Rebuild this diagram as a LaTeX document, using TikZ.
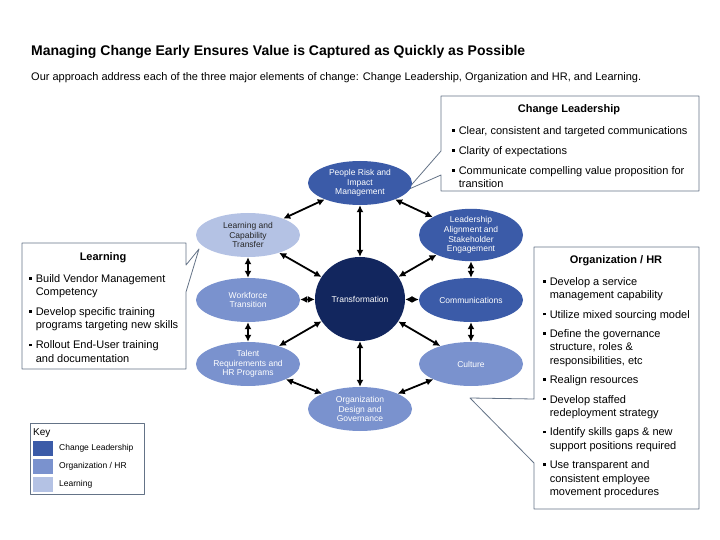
\documentclass[tikz,border=0pt]{standalone}
\usepackage{fontspec}
\setmainfont{Liberation Sans}
\usetikzlibrary{shapes.geometric, arrows.meta, positioning, calc}
\definecolor{leadblue}{RGB}{59,91,168}
\definecolor{orgblue}{RGB}{122,146,206}
\definecolor{learnblue}{RGB}{180,194,228}
\definecolor{coreblue}{RGB}{18,38,94}
\definecolor{edgegray}{RGB}{100,115,135}
\newcommand{\bul}{\rule[0.45ex]{2.6pt}{2.6pt}}
\tikzset{
  bubble/.style={ellipse, minimum width=104pt, minimum height=44pt, inner sep=0pt,
    align=center, font=\fontsize{8.5}{9.7}\selectfont, text=white},
  link/.style={line width=1.8pt, {Latex[length=7pt,width=7pt]}-{Latex[length=7pt,width=7pt]}},
  callout/.style={draw=edgegray, fill=white, line width=0.8pt},
  listtext/.style={anchor=north west, inner sep=0pt, align=left, font=\fontsize{11}{13.3}\selectfont},
  boxhead/.style={inner sep=0pt, font=\bfseries\fontsize{11}{13}\selectfont},
}

\begin{document}
\begin{tikzpicture}[x=1pt, y=-1pt, line join=round]
      \useasboundingbox (0,0) rectangle (720,540);
      \node[anchor=west, inner sep=0pt, font=\bfseries\fontsize{14}{16}\selectfont] (title) at (31,52)
        {Managing Change Early Ensures Value is Captured as Quickly as Possible};
      \node[anchor=west, inner sep=0pt, font=\fontsize{11}{13}\selectfont] (intro) at (31,78)
        {Our approach address each of the three major elements of change: Change Leadership, Organization and HR, and Learning.};
      % callout boxes
      \draw[callout] (441,96) -- (699,96) -- (699,191) -- (441,191) -- (441,175) -- (407,190) -- (441,151) -- cycle;
      \draw[callout] (22,243) -- (186,243) -- (186,265) -- (199,249) -- (186,292) -- (186,369) -- (22,369) -- cycle;
      \draw[callout] (534,247) -- (699,247) -- (699,509) -- (534,509) -- (534,463) -- (470,398) -- (534,399) -- cycle;
      \node[boxhead] (leadhead) at (569,110) {Change Leadership};
      \node[listtext] (leadlist) at (452,124.7) {\begin{tabular}{@{}l@{\hspace{4pt}}l@{}}
        \bul & Clear, consistent and targeted communications\\[6.7pt]
        \bul & Clarity of expectations\\[6.7pt]
        \bul & Communicate compelling value proposition for\\
             & transition
      \end{tabular}};
      \node[boxhead] (learnhead) at (103,258) {Learning};
      \node[listtext] (learnlist) at (29,272.7) {\begin{tabular}{@{}l@{\hspace{4pt}}l@{}}
        \bul & Build Vendor Management\\
             & Competency\\[6.7pt]
        \bul & Develop specific training\\
             & programs targeting new skills\\[6.7pt]
        \bul & Rollout End-User training\\
             & and documentation
      \end{tabular}};
      \node[boxhead] (orghead) at (616,261) {Organization / HR};
      \node[listtext] (orglist) at (543,275.7) {\begin{tabular}{@{}l@{\hspace{4pt}}l@{}}
        \bul & Develop a service\\
             & management capability\\[6.2pt]
        \bul & Utilize mixed sourcing model\\[6.2pt]
        \bul & Define the governance\\
             & structure, roles \&\\
             & responsibilities, etc\\[6.2pt]
        \bul & Realign resources\\[6.2pt]
        \bul & Develop staffed\\
             & redeployment strategy\\[6.2pt]
        \bul & Identify skills gaps \& new\\
             & support positions required\\[6.2pt]
        \bul & Use transparent and\\
             & consistent employee\\
             & movement procedures
      \end{tabular}};
      % change wheel
      \node[bubble, fill=coreblue, minimum width=90pt, minimum height=84pt] (core) at (360,299) {Transformation};
      \node[bubble, fill=leadblue] (risk) at (360,183) {People Risk and\\Impact\\Management};
      \node[bubble, fill=leadblue] (lead) at (471,235) {Leadership\\Alignment and\\Stakeholder\\Engagement};
      \node[bubble, fill=leadblue] (comm) at (471,300) {Communications};
      \node[bubble, fill=orgblue] (culture) at (471,364) {Culture};
      \node[bubble, fill=orgblue] (design) at (360,409) {Organization\\Design and\\Governance};
      \node[bubble, fill=orgblue] (talent) at (248,364) {Talent\\Requirements and\\HR Programs};
      \node[bubble, fill=orgblue] (work) at (248,300) {Workforce\\Transition};
      \node[bubble, fill=learnblue, text=black!85] (lct) at (248,235) {Learning and\\Capability\\Transfer};
      \foreach \a/\b in {core/risk, core/lead, core/comm, core/culture, core/design, core/talent, core/work, core/lct,
                         risk/lead, lead/comm, comm/culture, culture/design, design/talent, talent/work, work/lct, lct/risk}
        \draw[link] (\a) -- (\b);
      % key
      \draw[draw=edgegray, line width=0.8pt] (30,423) rectangle (144,494);
      \node[anchor=west, inner sep=0pt, font=\fontsize{10}{12}\selectfont] (keyhead) at (33,433) {Key};
      \foreach \c/\t/\y in {leadblue/Change Leadership/448, orgblue/{Organization / HR}/466, learnblue/Learning/484} {
        \fill[\c] (33,\y-7.5) rectangle (53,\y+7.5);
        \node[anchor=west, inner sep=0pt, font=\fontsize{8.5}{10}\selectfont] (key-\c) at (59,\y) {\t};
      }
    \end{tikzpicture}
\end{document}
